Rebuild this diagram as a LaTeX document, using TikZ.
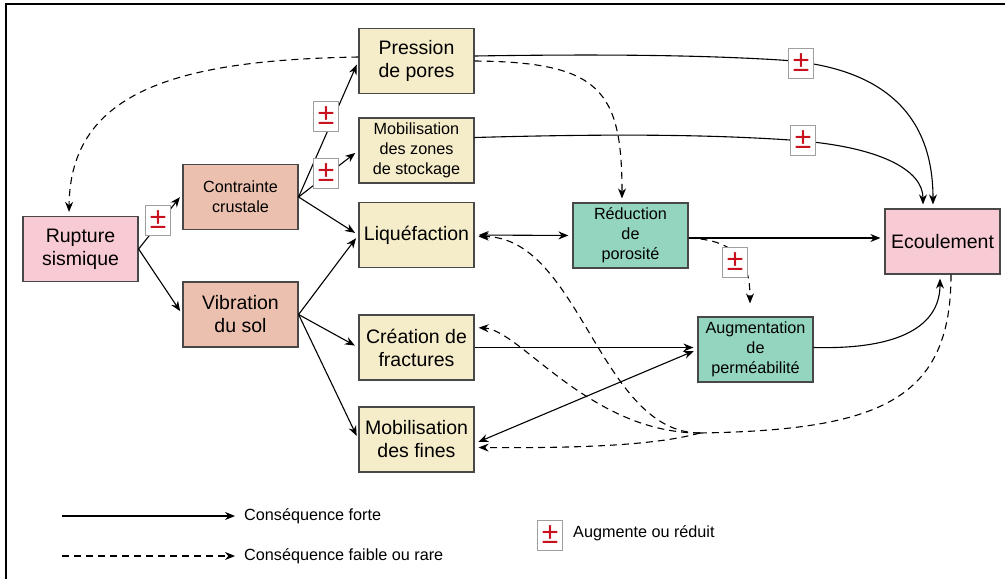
\documentclass[tikz,border=0pt]{standalone}
\usepackage{fontspec}
\setmainfont{Liberation Sans}
\usetikzlibrary{arrows.meta}
\definecolor{cream}{RGB}{245,236,201}
\definecolor{salmon}{RGB}{236,192,174}
\definecolor{pinkbox}{RGB}{248,202,211}
\definecolor{greenbox}{RGB}{148,213,192}
\definecolor{boxborder}{RGB}{72,72,72}
\definecolor{pmred}{RGB}{200,16,30}
\begin{document}
\begin{tikzpicture}[x=1pt,y=-1pt,
  box/.style={draw=boxborder, line width=1.2pt, minimum width=115pt, minimum height=65pt,
    inner sep=1pt, align=center, text=black, font=\fontsize{19.5}{23}\selectfont},
  smalltext/.style={font=\fontsize{16.2}{20}\selectfont},
  pm/.style={draw=gray!75, fill=white, line width=1pt, minimum width=25pt, minimum height=30pt,
    inner sep=0pt, text=pmred, font=\fontsize{30}{30}\selectfont},
  arr/.style={-{Stealth[length=10pt,width=8pt]}, line width=1.1pt, shorten >=4pt},
  darr/.style={{Stealth[length=10pt,width=8pt]}-{Stealth[length=10pt,width=8pt]}, line width=1.1pt, shorten >=4pt, shorten <=4pt},
  dsh/.style={dash pattern=on 7pt off 5pt},
  legtext/.style={font=\fontsize{16.2}{20}\selectfont, anchor=west, inner sep=0pt}
]
\useasboundingbox (0,0) rectangle (1005,579);
\draw[line width=1.5pt] (6,579) -- (6,4) -- (1005,4);

% nodes
\node[box, fill=pinkbox] (rupt) at (80.5,249) {Rupture\\sismique};
\node[box, fill=salmon, smalltext] (cont) at (240.5,197) {Contrainte\\crustale};
\node[box, fill=salmon] (vib) at (240.5,314.5) {Vibration\\du sol};
\node[box, fill=cream] (pres) at (416.5,61) {Pression\\de pores};
\node[box, fill=cream, smalltext] (mobz) at (416.5,150.5) {Mobilisation\\des zones\\de stockage};
\node[box, fill=cream] (liq) at (416.5,235) {Liquéfaction};
\node[box, fill=cream] (crea) at (416.5,347.5) {Création de\\fractures};
\node[box, fill=cream] (mobf) at (416.5,439.5) {Mobilisation\\des fines};
\node[box, fill=greenbox, smalltext] (red) at (630.5,235.5) {Réduction\\de\\porosité};
\node[box, fill=greenbox, smalltext] (augm) at (755.5,349.5) {Augmentation\\de\\perméabilité};
\node[box, fill=pinkbox] (ecou) at (942.5,241.5) {Ecoulement};

% left arrows
\draw[arr] (rupt.east) -- ([yshift=3pt]cont.west);
\draw[arr] (rupt.east) -- (vib.west);
\draw[arr] (cont.east) -- (pres.west);
\draw[arr] (cont.east) -- (mobz.west);
\draw[arr] (cont.east) -- (liq.west);
\draw[arr] (vib.east) -- (liq.west);
\draw[arr] (vib.east) -- (crea.west);
\draw[arr] (vib.east) -- (mobf.west);

% top long arrows
\draw[arr] ([yshift=5pt]pres.east) .. controls (600,54) and (700,55) .. (780,60)
  .. controls (900,68) and (933,130) .. ([xshift=-9.5pt]ecou.north);
\draw[arr] ([yshift=13pt]mobz.east) .. controls (600,134) and (700,134) .. (790,140)
  .. controls (880,146) and (923,170) .. ([xshift=-19.5pt]ecou.north);
\draw[arr,dsh] (pres.east) .. controls (600,62) and (622,90) .. ([xshift=-8.5pt]red.north);
\draw[arr,dsh] ([yshift=4pt]pres.west) .. controls (180,60) and (70,90) .. ([xshift=-11.5pt]rupt.north);

% middle
\draw[darr] (liq.east) -- (red.west);
\path ([yshift=-2.5pt]red.east) coordinate (r1);
\draw[arr] (r1) -- (r1 -| ecou.west);
\draw[arr,dsh,shorten >=13pt] (r1) .. controls (735,240) and (750,260) .. ([xshift=-5.5pt]augm.north);
\draw[arr] (crea.east) -- (crea.east -| augm.west);
\draw[darr] ([yshift=-4pt]mobf.east) -- (augm.west);
\draw[arr] ([yshift=2pt]augm.east) .. controls (910,350) and (940,320) .. ([xshift=-2.5pt]ecou.south);

% dashed feedback from Ecoulement
\coordinate (m) at (700,433);
\draw[dsh, line width=1.1pt] ([xshift=8.5pt]ecou.south) .. controls (951,400) and (880,430) .. (m);
\draw[arr,dsh] (m) .. controls (600,433) and (580,237) .. ([yshift=-1.5pt]liq.east);
\draw[arr,dsh] (m) .. controls (590,433) and (520,330) .. ([yshift=20pt]crea.east);
\draw[arr,dsh] (m) .. controls (650,447) and (560,448) .. ([yshift=-8pt]mobf.east);

% plus-minus boxes
\node[pm] (pm1) at (158,220) {±};
\node[pm] (pm2) at (326,116) {±};
\node[pm] (pm3) at (326,173) {±};
\node[pm] (pm4) at (801,63) {±};
\node[pm] (pm5) at (803,140) {±};
\node[pm] (pm6) at (735,262) {±};

% legend
\node[legtext] (lt1) at (244,516) {Conséquence forte};
\node[legtext] (lt2) at (244,556) {Conséquence faible ou rare};
\coordinate (l1) at (62,516);
\coordinate (l2) at (62,556);
\draw[arr, shorten >=9pt] (l1) -- (lt1.west);
\draw[arr, dsh, shorten >=9pt] (l2) -- (lt2.west);
\node[pm] (pm7) at (550,535) {±};
\node[legtext] (lt3) at (573,533) {Augmente ou réduit};
\end{tikzpicture}
\end{document}
